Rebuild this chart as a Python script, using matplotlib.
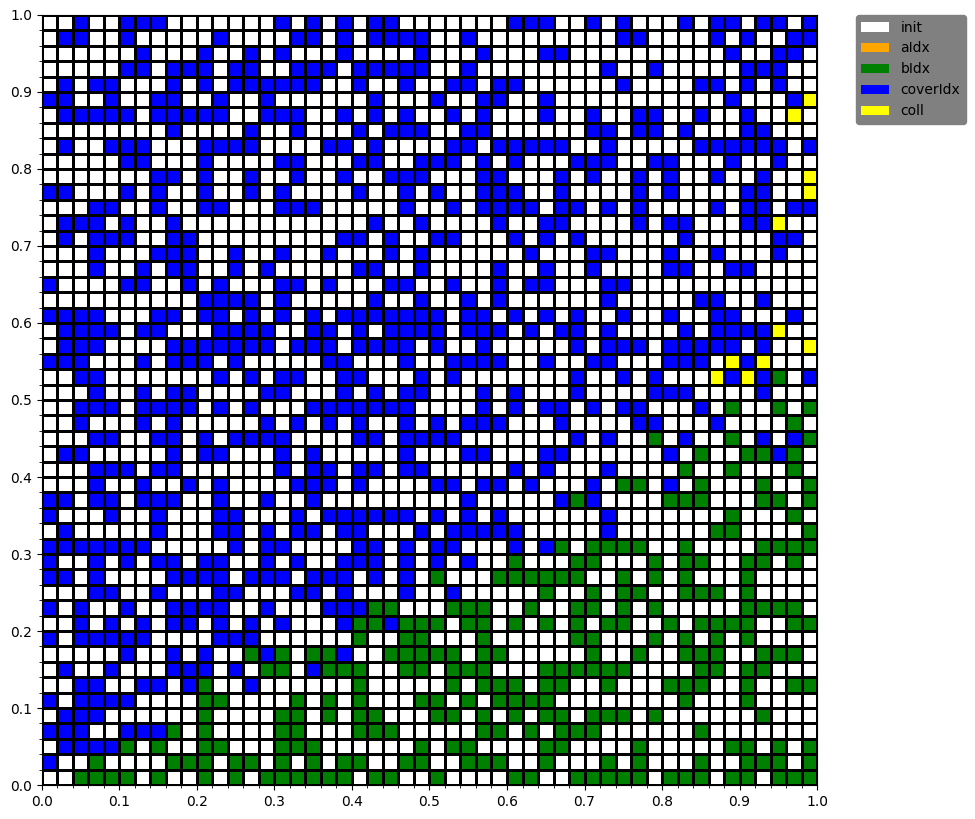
import matplotlib
matplotlib.use('Agg')
import matplotlib.pyplot as plt
import numpy as np
from matplotlib.colors import ListedColormap
from matplotlib.patches import Patch

# grid state, top row first; '.'=init, 'A'=aIdx, 'G'=bIdx, 'B'=coverIdx, 'Y'=coll
left = [
    "..B..BBB.......B.", ".BB..B.....B....B", "......B...B..B.B.", ".....BB.BBB.BB..B",
    ".B.BB...B.B.BBBBB", "BB..B..BB..B..B..", ".BBBBB.BBBBB..BBB", "........B....B..B",
    ".B..BBB...BBBB...", ".....BB...B....BB", ".......BB.B..B..B", "BB...B.B..B..B.B.",
    "...BB..B..BB...BB", ".BBB.B..B........", ".B.BBB..BB.......", "...B...BBB..B..B.",
    "...B..B.BB..B.B..", "B....BB..B.B...BB", "..........BBBB.B.", "BBBB...BB.BB.B.B.",
    ".BBBB.BB...BBBB..", ".BBB....BBBBBBB.B", "BBB...B.BBB.B....", "..BB.......B.B.BB",
    "...B..B.BB....BB.", "..BBB.BBBB.B.B...", "..B...B.B.....B.B", "...BB..BB.B.BBBB.",
    ".BB.....B.BB...B.", "...BBB.BB......B.", "...B..B..B.B....B", "BB.BB.BBB..B..B..",
    "B...B..B...BB...B", ".B.....B...BB.B.B", "BBBBBBB.....B.BB.", "B..B.B.BB.BB..B.B",
    "BB.B....BBBB.BBB.", "...BB..B...BB...B", "B.B..B..BBBB..B..", "..B.B.B.BB.B.B.B.",
    "B.BBBBB....BBB...", ".....B..B.B..GBG.", ".B..B...BBB.B.GG.", "..BB..BB.BG..B...",
    "B.BBBB....GG....G", ".BBB......G....GG", "BBB..BBBG.G....GG", ".BBBBG.G..GG...GG",
    "B..G....GGG.GG.G.", "..GGGG.G..G.G.GGG",
]
middle = [
    "B.B.BB.......BBB.", "B.B.BBBB..B......", "..B....B...B...BB", "BB.BBBBB..B......",
    "B..B..B..BB.BB...", "....B...B..BB..B.", "..B.B.B..B.B...B.", "...B.BBB..BB.....",
    ".BB.B....BB.BBBBB", "...BB..BBB.B.B...", "..B..BBB...BB...B", "...B..B.B..BBB..B",
    "B.....B..B.BBBB.B", "....B..B....B..BB", "..BB.B..BB...B.B.", ".B...B.B......B..",
    "...BB..B....B..B.", ".B...BB..B..B.BB.", "....B..B..B.B....", "B.BBBBBBB.BB.B.B.",
    "BB.B.BBBB.BBB.B.B", "BB.BBBB.B..B.....", ".BB...B..BBBB..B.", "..BB...B.B.......",
    "..B.B.BB...B.B...", "BBBBBBB....B.B.BB", ".B.B..B.B.BBB...B", "...BB.BBBB.......",
    "B.....B...BB...BB", "BB.BB.BB.....B.B.", "BB.B....BB.BB.B..", "B.........B.....B",
    ".BBBBBB.B.B.B....", "B.BB...B.BBBBB...", "...BB.B.BB...B.BG", "..BBB.B.B.B..G...",
    "BBB.B.B.G...GGGGG", "B.B...B..B.....G.", ".BBBGG...GGG..G..", "..BGGBGGG.GG.G.G.",
    "...G..GG...G.....", "GGB..GGGGG.GG....", "BGGG..GG.GGG...GG", "...G.....G.GGG.GG",
    ".G.G...GG.G.GGGG.", ".G.GG...GG.G.G.GG", "...GGG.....GG.G.G", "G......G.GG....GG",
    "G.GG..GG..GGG..G.", "GGG.GG..G....GG..",
]
right = [
    ".B.B...B.BB.BB.B", "...BB....B.B..BB", "..........B..BB.", "..B..B.....BBB..",
    "...B....BB.B.B..", "..........B...BY", ".B..BB..B..B..Y.", ".BB.BB.B...BB...",
    "..B.....BBBBBB.B", "BBB..BB...B..B..", ".B..B.B..B..B..Y", "....B.B....BB..Y",
    "B.B.B....B.BB.BB", "....B.BB...BBY..", "B......B.....BB.", ".BB...B..B...B..",
    ".B....BB..BB....", "..BB............", "..B.....BB..B...", "B..B..B..BB...B.",
    "B.B....B.BBBBY..", "B.BBB.BBBBB.B..Y", ".BB...BBB.YBY...", "B..B.B...YBYBG.B",
    "B....BBB....B...", ".B.BB...B.G..G.G", "....BB...B....G.", "B.B..G.B..G.B.BG",
    "......B.G..GGBG.", "..B....G..G...G.", ".B.GG.B.G...G..G", "GB....GGG...GG.G",
    "..B.......G...G.", "..B......GG....G", ".GGGG..G....GGGG", "GG...G.GG..GG.G.",
    "G..G.G.G...G....", ".G.GG..GGG.G....", "GG.G.G.....GGGG.", "G.GG..G.GGGG..GG",
    "GG...G.G.G.G....", ".G..G..GGG..GGG.", "GGGG....GG.GG...", "..G...GGG..G..GG",
    ".......G...G....", ".GGG.G......G...", "GG......G.......", "....G.....GG.G.G",
    "..G.G...G..GGG.G", "GGGGG.GGG.GG.GGG",
]

labels = ['init', 'aIdx', 'bIdx', 'coverIdx', 'coll']
colors = ['white', 'orange', 'green', 'blue', 'yellow']
codes = {'.': 0, 'A': 1, 'G': 2, 'B': 3, 'Y': 4}

rows = [a + b + c for a, b, c in zip(left, middle, right)]
n = len(rows)
state = np.array([[codes[ch] for ch in r] for r in rows])[::-1]

fig = plt.figure(figsize=(9.75, 8.19), dpi=100)
ax = fig.add_axes([0.043, 0.0415, 0.795, 0.9402])

edges = np.linspace(0, 1, n + 1)
ax.pcolormesh(edges, edges, state, cmap=ListedColormap(colors), vmin=-0.5, vmax=4.5,
              edgecolors='black', linewidth=0.8)

ax.set_xlim(0, 1)
ax.set_ylim(0, 1)
ax.set_xticks(np.linspace(0, 1, 11))
ax.set_yticks(np.linspace(0, 1, 11))
ax.set_xticks(edges, minor=True)
ax.set_yticks(edges, minor=True)

handles = [Patch(facecolor=c, label=l) for c, l in zip(colors, labels)]
leg = ax.legend(handles=handles, loc='upper left', bbox_to_anchor=(1.05, 1),
                borderaxespad=0, facecolor='gray', framealpha=1, edgecolor='gray')

fig.savefig('out.png', dpi=100)
